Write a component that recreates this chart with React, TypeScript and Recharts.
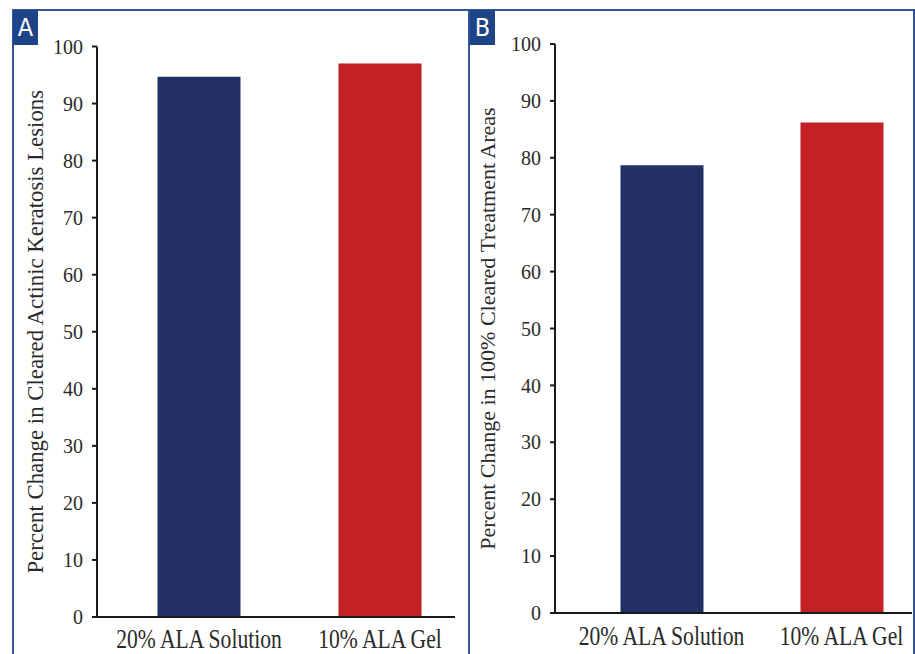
import { BarChart, Bar, XAxis, YAxis, Cell, Label } from 'recharts';

const treatments = ['20% ALA Solution', '10% ALA Gel'];
const lesionClearance = [94.7, 97.0];
const areaClearance = [78.7, 86.2];
const yTicks = [0, 10, 20, 30, 40, 50, 60, 70, 80, 90, 100];
const barColors = ['#233066', '#c42126'];

const FRAME = '#35569a';
const INK = '#2a2a2a';
const SERIF = '"Liberation Serif", "Times New Roman", serif';

interface PanelProps {
  title: string;
  values: number[];
  left: number;
  width: number;
  axisWidth: number;
  top: number;
  bottom: number;
  right: number;
  padLeft: number;
  padRight: number;
  titleX: number;
  titleSize: number;
  baseline: number;
}

// category names are set tall and narrow, like the typeset figure
function CategoryTick({ x, y, payload, baseline }: any) {
  return (
    <g transform={`translate(${x}, ${y + baseline}) scale(1, 1.3)`}>
      <text x={0} y={0} textAnchor="middle" fill={INK} fontSize={21.6} fontFamily={SERIF}>
        {payload.value}
      </text>
    </g>
  );
}

function Panel(p: PanelProps) {
  const data = treatments.map((name, i) => ({ name, value: p.values[i] }));
  return (
    <div style={{ position: 'absolute', left: p.left, top: 0 }}>
      <BarChart
        width={p.width}
        height={654}
        data={data}
        margin={{ top: p.top, right: p.right, bottom: 0, left: 0 }}
      >
        <XAxis
          dataKey="name"
          height={654 - p.bottom}
          padding={{ left: p.padLeft, right: p.padRight }}
          axisLine={{ stroke: '#1a1a1a', strokeWidth: 2 }}
          tickLine={false}
          tickSize={0}
          tickMargin={0}
          tick={(props: any) => <CategoryTick {...props} baseline={p.baseline} />}
          interval={0}
        />
        <YAxis
          type="number"
          domain={[0, 100]}
          ticks={yTicks}
          width={p.axisWidth}
          axisLine={{ stroke: '#1a1a1a', strokeWidth: 2 }}
          tickLine={{ stroke: '#1a1a1a', strokeWidth: 2 }}
          tickSize={5}
          tickMargin={9}
          tick={{ fill: INK, fontSize: 20, fontFamily: SERIF }}
        >
          <Label
            content={({ viewBox }: any) => {
              const cy = viewBox.y + viewBox.height / 2;
              return (
                <text
                  x={p.titleX}
                  y={cy}
                  transform={`rotate(-90, ${p.titleX}, ${cy})`}
                  textAnchor="middle"
                  dominantBaseline="central"
                  fill={INK}
                  fontSize={p.titleSize}
                  fontFamily={SERIF}
                >
                  {p.title}
                </text>
              );
            }}
          />
        </YAxis>
        <Bar dataKey="value" barSize={83} isAnimationActive={false}>
          {data.map((d, i) => (
            <Cell key={d.name} fill={barColors[i]} />
          ))}
        </Bar>
      </BarChart>
    </div>
  );
}

function Tag({ text, left }: { text: string; left: number }) {
  return (
    <div
      style={{
        position: 'absolute',
        left,
        top: 10,
        width: 25,
        height: 35,
        background: '#1c4486',
        color: '#fff',
        fontFamily: '"Liberation Sans Narrow", "DejaVu Sans Condensed", sans-serif',
        fontSize: 25,
        lineHeight: '35px',
        textAlign: 'center',
      }}
    >
      {text}
    </div>
  );
}

export default function App() {
  return (
    <div
      style={{
        position: 'absolute',
        left: 0,
        top: 0,
        width: 915,
        height: 654,
        overflow: 'hidden',
        background: '#fff',
      }}
    >
      {/* figure frame with the divider between the two panels */}
      <div
        style={{
          position: 'absolute',
          left: 12,
          top: 9,
          width: 899,
          height: 660,
          borderTop: `2px solid ${FRAME}`,
          borderLeft: `2px solid ${FRAME}`,
          borderRight: `2px solid ${FRAME}`,
        }}
      />
      <div style={{ position: 'absolute', left: 468, top: 9, width: 2, height: 660, background: FRAME }} />

      <Panel
        title="Percent Change in Cleared Actinic Keratosis Lesions"
        values={lesionClearance}
        left={13}
        width={456}
        axisWidth={84}
        top={46.5}
        bottom={617}
        right={14}
        padLeft={11.5}
        padRight={-15.5}
        titleX={22}
        titleSize={22.8}
        baseline={31}
      />
      <Panel
        title="Percent Change in 100% Cleared Treatment Areas"
        values={areaClearance}
        left={469}
        width={446}
        axisWidth={86}
        top={44}
        bottom={613}
        right={3}
        padLeft={16.5}
        padRight={-19.5}
        titleX={18}
        titleSize={22}
        baseline={32}
      />

      <Tag text="A" left={13} />
      <Tag text="B" left={470} />
    </div>
  );
}
